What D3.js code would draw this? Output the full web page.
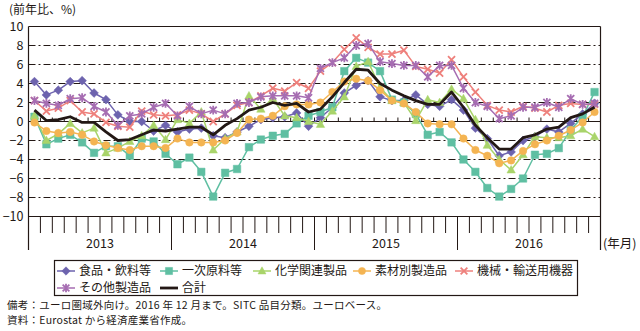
<!DOCTYPE html>
<html>
<head>
<meta charset="utf-8">
<script src="https://cdn.jsdelivr.net/npm/d3@7"></script>
<style>
  html, body { margin: 0; padding: 0; background: #fff; }
  svg text { font-family: "Noto Sans CJK JP", "Noto Sans", sans-serif; fill: #231815; }
</style>
</head>
<body>
<script>
// 月次・前年同月比（%）、2013年1月〜2016年12月
const years = ["2013", "2014", "2015", "2016"];
const yTicks = [-10, -8, -6, -4, -2, 0, 2, 4, 6, 8, 10];

const food = [4.2, 2.8, 3.3, 4.2, 4.3, 3.0, 2.3, 0.7, 0.0, 0.0, -1.0, -0.4,
  -1.1, -0.8, -0.7, -1.5, -1.7, -1.1, -0.5, 0.2, 0.4, 0.5, 0.9, -0.5,
  0.4, 1.5, 3.0, 3.8, 4.3, 2.6, 2.2, 2.2, 2.8, 1.8, 1.6, 2.3,
  1.2, -0.7, -1.8, -3.6, -3.2, -2.0, -1.6, -0.8, -1.1, -0.2, 0.8, 1.9];
const primary = [0.5, -2.4, -1.8, -1.4, -2.2, -3.3, -2.6, -2.6, -3.6, -1.8, -2.1, -3.4,
  -4.5, -3.8, -5.3, -7.9, -5.4, -5.0, -2.7, -1.9, -1.5, -1.3, -0.2, 0.6,
  1.0, 1.5, 5.3, 6.7, 6.2, 5.3, 2.3, 2.0, 0.8, -1.4, -1.1, -2.2,
  -4.0, -5.3, -7.0, -7.9, -7.1, -6.0, -3.5, -3.4, -2.8, -0.9, 0.5, 3.1];
const chemical = [0.6, -2.0, -1.3, -0.2, -1.2, -0.7, -3.3, -2.8, -2.1, -1.5, -0.4, -1.9,
  0.2, -0.2, 1.0, -3.0, -1.8, -1.1, 2.7, 1.3, 2.4, 0.6, 0.4, 0.0,
  -0.3, 1.1, 2.6, 5.8, 6.3, 3.6, 2.2, 2.0, 0.1, 2.3, 2.0, 3.4,
  2.4, 0.2, -2.5, -4.0, -5.1, -3.5, -1.6, -1.7, -1.7, -1.5, -0.8, -1.6];
const material = [-0.1, -1.0, -1.2, -1.1, -1.4, -2.1, -2.5, -2.8, -3.0, -2.6, -2.6, -2.8,
  -1.8, -2.2, -2.2, -2.2, -2.0, -1.2, 0.2, 0.3, 0.6, 1.6, 1.8, 1.8,
  2.0, 3.1, 4.2, 4.5, 4.3, 3.3, 2.2, 1.9, 1.0, -0.2, -0.3, -0.3,
  -1.8, -3.0, -3.6, -4.4, -4.1, -3.1, -2.4, -2.0, -1.5, -0.9, -0.1, 1.0];
const machinery = [2.2, 1.1, 1.4, 2.2, 1.0, 0.8, -0.1, -0.5, -0.6, 1.1, 0.7, 0.6,
  0.7, 1.2, 0.8, 0.0, 0.8, 1.7, 2.0, 2.7, 3.5, 3.2, 4.1, 3.5,
  5.3, 6.2, 7.6, 8.8, 7.8, 7.1, 7.1, 7.5, 5.8, 5.5, 5.1, 6.5,
  4.7, 3.1, 1.7, 1.2, 1.0, 1.6, 1.4, 1.0, 1.7, 1.9, 1.8, 1.8];
const otherMfg = [2.2, 1.9, 1.7, 2.4, 2.5, 1.6, 1.0, -0.4, 0.6, 0.8, 1.5, 1.9,
  0.6, 1.6, 0.8, 1.2, 0.8, 1.9, 2.0, 2.6, 2.7, 2.7, 2.7, 2.5,
  5.6, 6.2, 6.7, 8.0, 8.2, 6.3, 6.1, 5.9, 5.9, 4.7, 5.9, 5.9,
  3.5, 2.0, 1.6, 0.3, 0.6, 1.5, 1.5, 2.0, 1.5, 2.4, 1.8, 1.9];
const total = [1.2, 0.1, 0.2, 0.5, -0.1, -0.1, -1.1, -2.0, -1.9, -1.4, -0.9, -1.0,
  -0.8, -0.6, -0.6, -1.4, -0.4, 0.3, 1.2, 1.5, 2.0, 1.7, 1.9, 1.0,
  1.3, 2.6, 4.1, 5.5, 5.4, 4.0, 3.3, 2.7, 2.2, 1.8, 1.8, 3.1,
  1.5, -0.4, -1.7, -2.9, -2.9, -1.7, -1.4, -0.8, -0.6, 0.4, 0.8, 1.5];

const seriesNames = ["食品・飲料等", "一次原料等", "化学関連製品", "素材別製造品", "機械・輸送用機器", "その他製造品", "合計"];
const seriesColors = ["#6D63AE", "#5FBFA2", "#A9D46A", "#F4B452", "#EE807C", "#A66DB2", "#231815"];
const seriesMarkers = ["diamond", "square", "triangle", "circle", "x", "star", "none"];
const seriesValues = [food, primary, chemical, material, machinery, otherMfg, total];

const notes = [
  "備考：ユーロ圏域外向け。2016 年 12 月まで。SITC 品目分類。ユーロベース。",
  "資料：Eurostat から経済産業省作成。"
];

const months = [];
years.forEach(yr => { for (let m = 1; m <= 12; m++) months.push(yr + "-" + m); });

const W = 640, H = 331;
const pLeft = 28.5, pRight = 600.5, pTop = 26.5, pBottom = 216.5, axisExt = 250;
const ink = "#231815";
const fontStack = "'Noto Sans CJK JP', 'Noto Sans', sans-serif";

const svg = d3.select("body").append("svg")
  .attr("width", W).attr("height", H)
  .attr("font-family", fontStack);

const x = d3.scaleBand().domain(months).range([pLeft, pRight]).padding(0);
const y = d3.scaleLinear().domain([-10, 10]).range([pBottom, pTop]);
const bw = x.bandwidth();

// horizontal grid
svg.append("g").selectAll("line").data(yTicks.filter(v => v !== 10 && v !== -10 && v !== 0))
  .join("line")
  .attr("x1", pLeft).attr("x2", pRight)
  .attr("y1", d => y(d)).attr("y2", d => y(d))
  .attr("stroke", ink).attr("stroke-width", 1).attr("stroke-dasharray", "7,3,2,3");

// frame, zero line, bottom axis
const frame = svg.append("g").attr("stroke", ink).attr("stroke-width", 1.2).attr("fill", "none");
frame.append("line").attr("x1", pLeft).attr("x2", pRight).attr("y1", pTop).attr("y2", pTop);
frame.append("line").attr("x1", pLeft).attr("x2", pRight).attr("y1", pBottom).attr("y2", pBottom);
frame.append("line").attr("x1", pLeft).attr("x2", pRight).attr("y1", y(0)).attr("y2", y(0));
frame.append("line").attr("x1", pLeft).attr("x2", pLeft).attr("y1", pTop).attr("y2", axisExt);
frame.append("line").attr("x1", pRight).attr("x2", pRight).attr("y1", pTop).attr("y2", axisExt);

// month tick marks at band edges
const edges = d3.range(1, months.length).map(i => x(months[i]));
svg.append("g").selectAll("line").data(edges).join("line")
  .attr("x1", d => d).attr("x2", d => d)
  .attr("y1", pBottom)
  .attr("y2", (d, i) => ((i + 1) % 12 === 0 ? axisExt : pBottom + 16.5))
  .attr("stroke", ink).attr("stroke-width", 1);
svg.append("g").selectAll("line").data(edges).join("line")
  .attr("x1", d => d).attr("x2", d => d)
  .attr("y1", y(0) - 4).attr("y2", y(0))
  .attr("stroke", ink).attr("stroke-width", 1);

// y axis labels
const yAxis = d3.axisLeft(y).tickValues(yTicks).tickSize(0).tickPadding(5);
const ya = svg.append("g").attr("transform", `translate(${pLeft},0)`).call(yAxis);
ya.attr("font-family", fontStack);
ya.select(".domain").remove();
ya.selectAll("text").attr("font-size", 12.5).attr("fill", ink);

// year labels
svg.append("g").selectAll("text").data(years).join("text")
  .attr("x", d => (x(d + "-1") + x(d + "-12") + bw) / 2)
  .attr("y", 247.5)
  .attr("text-anchor", "middle").attr("font-size", 12.5)
  .text(d => d);
svg.append("text").attr("x", 603).attr("y", 247.5).attr("font-size", 12.5).text("(年月)");
svg.append("text").attr("x", 9).attr("y", 14).attr("font-size", 12).text("(前年比、%)");

// marker path builder (shape outlines centred on 0,0)
function markerPath(type, s) {
  switch (type) {
    case "diamond": return `M0,${-s}L${s},0L0,${s}L${-s},0Z`;
    case "square": { const h = s * 0.85; return `M${-h},${-h}H${h}V${h}H${-h}Z`; }
    case "triangle": return `M0,${-s}L${s * 0.95},${s * 0.7}L${-s * 0.95},${s * 0.7}Z`;
    case "circle": { const r = s * 0.85; return `M${r},0A${r},${r},0,1,1,${-r},0A${r},${r},0,1,1,${r},0Z`; }
    case "x": { const h = s * 0.8; return `M${-h},${-h}L${h},${h}M${-h},${h}L${h},${-h}`; }
    case "star": { const h = s * 0.8; return `M${-h},${-h}L${h},${h}M${-h},${h}L${h},${-h}M0,${-s}L0,${s}`; }
  }
  return "";
}
function drawMarker(g, type, color, s) {
  const stroked = type === "x" || type === "star";
  g.append("path").attr("d", markerPath(type, s))
    .attr("fill", stroked ? "none" : color)
    .attr("stroke", color)
    .attr("stroke-width", stroked ? 1.8 : 0.5);
}

const line = d3.line().x((d, i) => x(months[i]) + bw / 2).y(d => y(d));

seriesValues.forEach((vals, k) => {
  const g = svg.append("g");
  g.append("path").datum(vals).attr("d", line)
    .attr("fill", "none").attr("stroke", seriesColors[k])
    .attr("stroke-width", k === 6 ? 2.8 : 1.5).attr("stroke-linejoin", "round");
  if (seriesMarkers[k] !== "none") {
    vals.forEach((v, i) => {
      const mg = g.append("g").attr("transform", `translate(${x(months[i]) + bw / 2},${y(v)})`);
      drawMarker(mg, seriesMarkers[k], seriesColors[k], 4.4);
    });
  }
});

// legend
const lg = svg.append("g");
lg.append("rect").attr("x", 54.5).attr("y", 260.5).attr("width", 523).attr("height", 35)
  .attr("fill", "#fff").attr("stroke", ink).attr("stroke-width", 1.2);
const legendPos = [
  [57, 271], [160, 271], [253, 271], [353, 271], [455, 271],
  [57, 288], [160, 288]
];
seriesNames.forEach((name, k) => {
  const [lx, ly] = legendPos[k];
  const g = lg.append("g");
  g.append("line").attr("x1", lx).attr("x2", lx + 18).attr("y1", ly).attr("y2", ly)
    .attr("stroke", seriesColors[k]).attr("stroke-width", k === 6 ? 2.8 : 1.5);
  if (seriesMarkers[k] !== "none") {
    const mg = g.append("g").attr("transform", `translate(${lx + 9},${ly})`);
    drawMarker(mg, seriesMarkers[k], seriesColors[k], 4.2);
  }
  g.append("text").attr("x", lx + 22).attr("y", ly).attr("dy", "0.36em")
    .attr("font-size", 12).text(name);
});

// notes
svg.append("g").selectAll("text").data(notes).join("text")
  .attr("x", 7).attr("y", (d, i) => 308.5 + i * 15.5)
  .attr("font-size", 10.5).attr("letter-spacing", 0.25).text(d => d);
</script>
</body>
</html>
